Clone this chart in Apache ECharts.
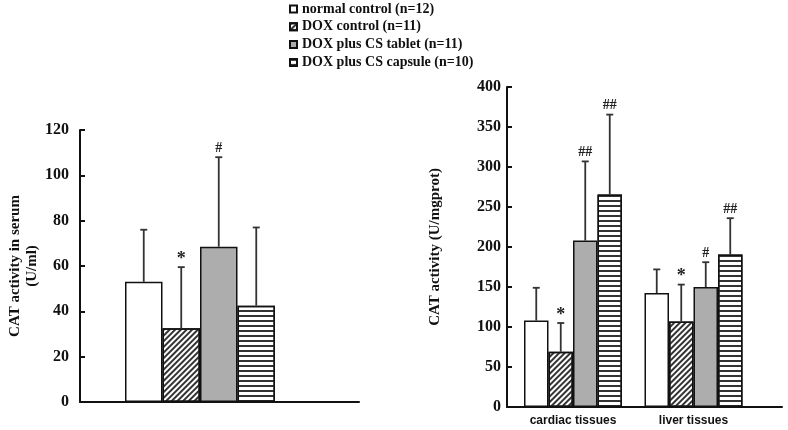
<!DOCTYPE html>
<html><head><meta charset="utf-8">
<script src="https://cdn.jsdelivr.net/npm/echarts@6/dist/echarts.min.js"></script>
<style>html,body{margin:0;padding:0;background:#fff}#c{width:788px;height:430px}</style>
</head><body><div id="c"></div>
<script>
// ---- data ----
const groups = ['normal control (n=12)', 'DOX control (n=11)', 'DOX plus CS tablet (n=11)', 'DOX plus CS capsule (n=10)'];
// serum (left panel), one value per group
const serumMean = [53, 32.5, 68.5, 42.5];
const serumSD = [23, 27, 39.5, 34.5];
const serumMarks = ['', '*', '#', ''];
const serumTicks = [0, 20, 40, 60, 80, 100, 120];
// tissues (right panel)
const tissueCats = ['cardiac tissues', 'liver tissues'];
const normalTissue = [108, 142.5];
const doxTissue = [69, 107];
const tabletTissue = [208, 150];
const capsuleTissue = [265.5, 190.5];
const normalTissueSD = [41, 29.5];
const doxTissueSD = [36, 46];
const tabletTissueSD = [99, 31];
const capsuleTissueSD = [100, 45.5];
const normalTissueMarks = ['', ''];
const doxTissueMarks = ['*', '*'];
const tabletTissueMarks = ['##', '#'];
const capsuleTissueMarks = ['##', '##'];
const tissueTicks = [0, 50, 100, 150, 200, 250, 300, 350, 400];

const tissueMeans = [normalTissue, doxTissue, tabletTissue, capsuleTissue];
const tissueSDs = [normalTissueSD, doxTissueSD, tabletTissueSD, capsuleTissueSD];
const tissueMarks = [normalTissueMarks, doxTissueMarks, tabletTissueMarks, capsuleTissueMarks];

// ---- styles ----
const serif = '"Liberation Serif", "Times New Roman", serif';
const sans = '"Liberation Sans", Arial, sans-serif';
const border = {borderColor: '#111', borderWidth: 1.5};
const groupStyles = [
  Object.assign({color: '#ffffff'}, border),
  Object.assign({color: '#ffffff', decal: {symbol: 'rect', symbolSize: 1, dashArrayX: [1, 0], dashArrayY: [1.1, 1.9], rotation: -Math.PI / 4, color: '#333'}}, border),
  Object.assign({color: '#adadad'}, border),
  Object.assign({color: '#ffffff', decal: {symbol: 'rect', symbolSize: 1, dashArrayX: [1, 0], dashArrayY: [1.3, 2.2], rotation: 0, color: '#333'}}, border)
];

function errRender(barW, marks) {
  return function (params, api) {
    const cat = api.value(0), g = api.value(1), m = api.value(2), sd = api.value(3);
    const base = api.coord([cat, m]);
    const top = api.coord([cat, m + sd]);
    const x = base[0] + (g - 1.5) * barW;
    const mk = marks[params.dataIndex];
    const children = [
      {type: 'line', shape: {x1: x, y1: base[1], x2: x, y2: top[1]}, style: {stroke: '#333', lineWidth: 1.8}},
      {type: 'line', shape: {x1: x - 3.5, y1: top[1], x2: x + 3.5, y2: top[1]}, style: {stroke: '#333', lineWidth: 1.8}}
    ];
    if (mk) {
      const star = mk === '*';
      children.push({type: 'text', style: {text: mk, x: x, y: top[1] - (star ? -1 : 2), align: 'center', verticalAlign: 'bottom',
        font: star ? 'bold 18px ' + serif : 'bold 14px ' + serif, fill: '#222'}});
    }
    return {type: 'group', children: children};
  };
}

const serumErr = [], serumErrMarks = [];
groups.forEach((g, i) => { serumErr.push([0, i, serumMean[i], serumSD[i]]); serumErrMarks.push(serumMarks[i]); });
const tissueErr = [], tissueErrMarks = [];
groups.forEach((g, i) => tissueCats.forEach((c, j) => {
  tissueErr.push([j, i, tissueMeans[i][j], tissueSDs[i][j]]); tissueErrMarks.push(tissueMarks[i][j]);
}));

const series = [];
groups.forEach((name, i) => {
  series.push({type: 'bar', name: name, xAxisIndex: 0, yAxisIndex: 0, barWidth: 37.5, barGap: '0%',
    data: [serumMean[i]], itemStyle: groupStyles[i], emphasis: {disabled: true}});
});
groups.forEach((name, i) => {
  series.push({type: 'bar', name: name, xAxisIndex: 2, yAxisIndex: 2, barWidth: 24.5, barGap: '0%',
    data: tissueMeans[i], itemStyle: groupStyles[i], emphasis: {disabled: true}});
});
series.push({type: 'custom', xAxisIndex: 0, yAxisIndex: 0, z: 5, renderItem: errRender(37.5, serumErrMarks),
  encode: {x: 0, y: 2}, data: serumErr, silent: true});
series.push({type: 'custom', xAxisIndex: 2, yAxisIndex: 2, z: 5, renderItem: errRender(24.5, tissueErrMarks),
  encode: {x: 0, y: 2}, data: tissueErr, silent: true});

const axisLineStyle = {show: true, lineStyle: {color: '#111', width: 2}};
const yTickLabel = {fontFamily: serif, fontWeight: 'bold', fontSize: 16, color: '#111'};

const option = {
  animation: false,
  backgroundColor: '#fff',
  legend: {
    orient: 'vertical', left: 284, top: -3, itemWidth: 7, itemHeight: 7, itemGap: 3.8,
    icon: 'rect', data: groups, selectedMode: false,
    textStyle: {fontFamily: serif, fontWeight: 'bold', fontSize: 14, color: '#111', lineHeight: 14}
  },
  grid: [
    {left: 80, top: 130, width: 240, height: 272},
    {left: 80, top: 130, width: 279, height: 272},
    {left: 512.75, top: 87, width: 241, height: 320},
    {left: 507, top: 87, width: 275, height: 320}
  ],
  xAxis: [
    {gridIndex: 0, type: 'category', data: [''], axisLine: {show: false}, axisTick: {show: false}, axisLabel: {show: false}},
    {gridIndex: 1, type: 'value', min: 0, max: 1, axisLine: axisLineStyle, axisTick: {show: false}, axisLabel: {show: false}, splitLine: {show: false}},
    {gridIndex: 2, type: 'category', data: tissueCats, axisLine: {show: false}, axisTick: {show: false},
      axisLabel: {fontFamily: sans, fontWeight: 'bold', fontSize: 12, color: '#111', margin: 8}},
    {gridIndex: 3, type: 'value', min: 0, max: 1, axisLine: axisLineStyle, axisTick: {show: false}, axisLabel: {show: false}, splitLine: {show: false}}
  ],
  yAxis: [
    {gridIndex: 0, type: 'value', min: 0, max: 120, show: false},
    {gridIndex: 1, type: 'value', min: serumTicks[0], max: serumTicks[serumTicks.length - 1], interval: serumTicks[1] - serumTicks[0],
      axisLine: axisLineStyle, axisTick: {show: true, inside: true, length: 5, lineStyle: {color: '#111', width: 2}},
      axisLabel: Object.assign({margin: 11}, yTickLabel), splitLine: {show: false},
      name: 'CAT activity in serum\n(U/ml)', nameLocation: 'middle', nameGap: 37, nameRotate: 90,
      nameTextStyle: {fontFamily: serif, fontWeight: 'bold', fontSize: 15, color: '#111', lineHeight: 17}},
    {gridIndex: 2, type: 'value', min: 0, max: 400, show: false},
    {gridIndex: 3, type: 'value', min: tissueTicks[0], max: tissueTicks[tissueTicks.length - 1], interval: tissueTicks[1] - tissueTicks[0],
      axisLine: axisLineStyle, axisTick: {show: true, inside: true, length: 5, lineStyle: {color: '#111', width: 2}},
      axisLabel: Object.assign({margin: 6}, yTickLabel), splitLine: {show: false},
      name: 'CAT activity (U/mgprot)', nameLocation: 'middle', nameGap: 64, nameRotate: 90,
      nameTextStyle: {fontFamily: serif, fontWeight: 'bold', fontSize: 15, color: '#111'}}
  ],
  series: series
};
const chart = echarts.init(document.getElementById('c'), null, {renderer: 'canvas'});
chart.setOption(option);
</script></body></html>
